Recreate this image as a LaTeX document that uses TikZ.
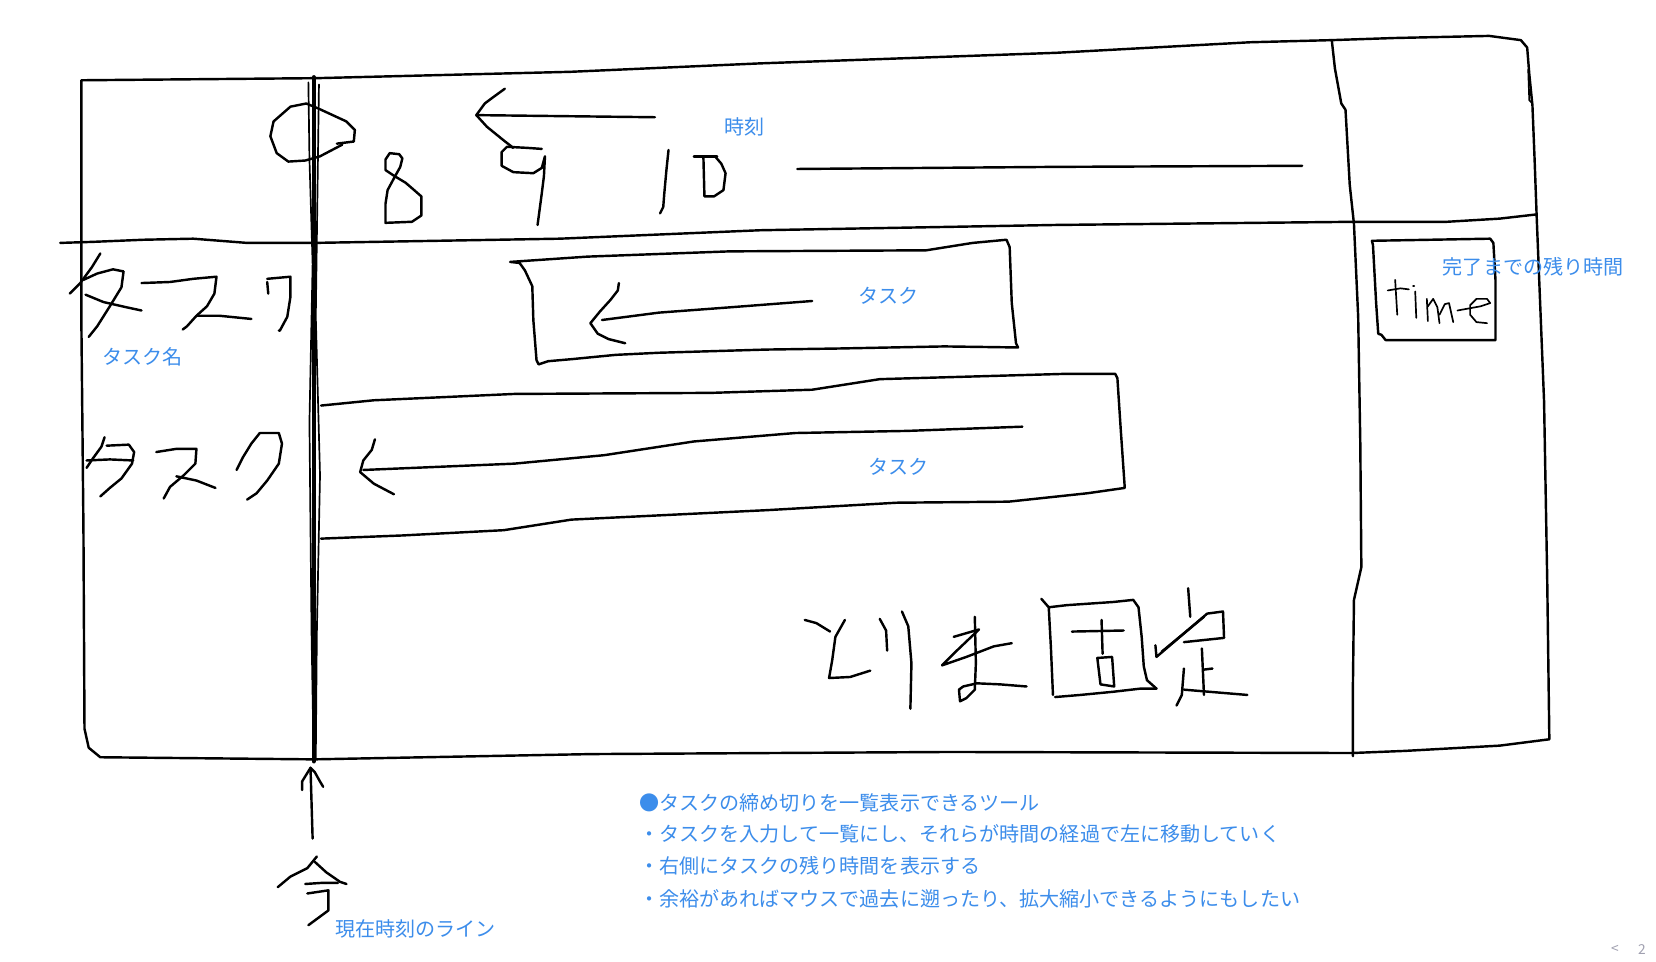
\documentclass[tikz,border=0pt]{standalone}
\usepackage{fontspec}
\setmainfont{Noto Sans CJK JP}
\usetikzlibrary{positioning}
\definecolor{MemoBlue}{HTML}{3C8DEB}
\definecolor{PageGray}{HTML}{A0A0B0}

\begin{document}
\begin{tikzpicture}[x=1pt, y=-1pt,
    ink/.style={line width=2.3pt, line cap=round, line join=round},
    fineink/.style={line width=1.6pt, line cap=round, line join=round},
    memo/.style={text=MemoBlue, font=\fontsize{19}{23}\selectfont, inner sep=0pt, anchor=west}]
  \useasboundingbox[fill=white] (0,0) rectangle (1568,910);

  % outer frame
  \draw[ink] (77,76) -- (300,74) -- (540,68) -- (720,60) -- (1000,50) -- (1184,40) -- (1261,38) -- (1320,36)
    -- (1410,34) -- (1440,38) -- (1446,45) -- (1448,70) -- (1451,100) -- (1453,150) -- (1455,205) -- (1462,380)
    -- (1465,550) -- (1467,700) -- (1420,706) -- (1330,711) -- (1280,713) -- (900,712) -- (560,714) -- (297,719)
    -- (95,717) -- (84,708) -- (80,690) -- (79,500) -- (77,300) -- cycle;
  \draw[fineink] (1447,66) -- (1448,95) -- (1451,98);
  % header divider
  \draw[ink] (57,230) -- (88,229) -- (136,227) -- (183,226) -- (234,230) -- (297,230) -- (530,226) -- (720,218)
    -- (1000,213) -- (1283,210) -- (1370,210) -- (1420,207) -- (1455,203);
  % right panel divider
  \draw[ink] (1261,38) -- (1264,65) -- (1270,98) -- (1274,104) -- (1278,175) -- (1282,212) -- (1286,300)
    -- (1288,420) -- (1289,537) -- (1282,568) -- (1281,650) -- (1281,716);

  % clock row
  \draw[ink] (302,103) -- (328,115) -- (336,123) -- (335,134) -- (319,136);
  \draw[ink] (324,137) -- (303,148) -- (289,152) -- (273,153) -- (262,145) -- (256,129) -- (259,115) -- (275,101) -- (290,98) -- (302,103);
  \draw[ink] (381,150) -- (378,146) -- (369,145) -- (365,151) -- (365,161) -- (374,167) -- (384,173) -- (391,179) -- (399,186)
    -- (399,204) -- (390,210) -- (365,211) -- (365,193) -- (367,180) -- (374,167) -- (379,158) -- (381,150);
  \draw[ink] (451,109) -- (620,111);
  \draw[ink] (478,84) -- (467,92) -- (459,98) -- (451,109) -- (461,120) -- (477,133) -- (486,140);
  \draw[ink] (513,141) -- (499,140) -- (480,139) -- (475,144) -- (475,157) -- (486,163) -- (505,164) -- (513,159) -- (516,148)
    -- (515,167) -- (513,183) -- (509,213);
  \draw[ink] (633,142) -- (631,161) -- (629,183) -- (628,196) -- (625,202);
  \draw[ink] (657,148) -- (679,148);
  \draw[ink] (666,148) -- (667,186) -- (676,186) -- (685,180) -- (687,164) -- (683,155) -- (677,148);
  \draw[ink] (755,160) -- (1000,158) -- (1233,157);
  \node[memo] (clocklabel) at (686,120) {時刻};

  % task names
  \draw[ink] (95,240) -- (87,253) -- (76,268) -- (66,278);
  \draw[ink] (79,265) -- (92,259) -- (107,255) -- (117,257) -- (115,272) -- (104,290) -- (92,309) -- (84,319);
  \draw[ink] (81,279) -- (98,286) -- (120,291) -- (134,294);
  \draw[ink] (134,268) -- (161,267) -- (183,264) -- (205,262) -- (203,278) -- (196,290) -- (186,299) -- (177,309) -- (173,312);
  \draw[ink] (186,299) -- (208,299) -- (238,302);
  \draw[ink] (253,267) -- (254,278);
  \draw[ink] (253,264) -- (275,262) -- (275,281) -- (272,300) -- (265,313) -- (264,313);
  \node[memo] (namelabel) at (97,338) {タスク名};

  \draw[ink] (99,414) -- (96,423) -- (88,434) -- (82,443);
  \draw[ink] (101,422) -- (122,421) -- (127,428) -- (125,439) -- (115,453) -- (104,462) -- (95,470);
  \draw[ink] (82,436) -- (104,435) -- (126,436);
  \draw[ink] (148,428) -- (167,425) -- (186,425) -- (185,439) -- (174,450) -- (161,461) -- (155,472);
  \draw[ink] (167,451) -- (186,455) -- (204,462);
  \draw[ink] (246,410) -- (238,420) -- (230,433) -- (224,445);
  \draw[ink] (246,410) -- (264,410) -- (267,420) -- (264,439) -- (253,455) -- (243,467) -- (234,473);

  % task bars
  \draw[ink] (483,248) -- (556,243) -- (691,238) -- (877,237) -- (921,230) -- (953,227) -- (956,234) -- (958,287)
    -- (962,325) -- (964,329) -- (894,328) -- (793,330) -- (725,331) -- (624,334) -- (583,336) -- (542,340)
    -- (519,342) -- (510,345) -- (508,341) -- (505,303) -- (504,271) -- (497,256) -- (492,249) -- cycle;
  \draw[ink] (769,285) -- (691,291) -- (624,296) -- (570,303);
  \draw[ink] (586,268) -- (585,275) -- (578,284) -- (568,295) -- (559,306) -- (566,316) -- (576,321) -- (592,325);
  \node[memo] (bartaskA) at (813,280) {タスク};

  \draw[ink] (304,384) -- (354,379) -- (487,373) -- (673,372) -- (769,369) -- (833,359) -- (1008,354) -- (1056,354)
    -- (1058,358) -- (1061,404) -- (1065,462) -- (1030,467) -- (955,475) -- (849,476) -- (727,483) -- (541,492)
    -- (477,502) -- (381,507) -- (304,510);
  \draw[ink] (968,404) -- (859,408) -- (753,410) -- (657,418) -- (572,431) -- (487,439) -- (344,445);
  \draw[ink] (355,416) -- (352,426) -- (344,436) -- (341,447) -- (354,458) -- (373,468);
  \node[memo] (bartaskB) at (822,442) {タスク};

  % fixed now line
  \draw[line width=3.8pt, line cap=round] (297,73) -- (297,721);
  \draw[fineink] (292,78) -- (293,150) -- (296,250) -- (293,400) -- (295,600) -- (297,718);
  \draw[fineink] (302,80) -- (299,300) -- (303,450) -- (300,600) -- (299,718);
  \coordinate (nowfoot) at (296,794);
  \coordinate (nowtip) at (294,727);
  \draw[ink] (nowfoot) -- (nowtip);
  \draw[ink] (286,748) -- (286,740) -- (nowtip) -- (298,731) -- (303,740) -- (306,745);
  \draw[ink] (300,811) -- (291,822) -- (275,830) -- (263,840);
  \draw[ink] (298,816) -- (309,826) -- (322,835) -- (328,837);
  \draw[ink] (289,837) -- (304,836) -- (320,836);
  \draw[ink] (291,846) -- (311,843) -- (311,862) -- (292,876);
  \node[memo] (nowlabel) at (317,880) {現在時刻のライン};

  % handwritten note
  \draw[ink] (762,587) -- (773,590) -- (786,598);
  \draw[ink] (800,587) -- (791,603) -- (788,625) -- (785,642) -- (805,641) -- (824,635);
  \draw[ink] (833,586) -- (839,597) -- (840,616);
  \draw[ink] (854,579) -- (860,593) -- (863,628) -- (862,671);
  \draw[ink] (903,603) -- (927,596) -- (906,616) -- (892,630) -- (915,622) -- (941,612) -- (958,609);
  \draw[ink] (923,584) -- (924,628) -- (923,653) -- (915,661) -- (909,664) -- (908,653) -- (912,650) -- (925,647) -- (947,648) -- (972,650);
  \draw[ink] (986,567) -- (993,575) -- (995,612) -- (997,658);
  \draw[ink] (993,575) -- (1010,573) -- (1054,570) -- (1073,568) -- (1078,575) -- (1081,603) -- (1083,631) -- (1086,644) -- (1095,652);
  \draw[ink] (999,660) -- (1023,658) -- (1054,655) -- (1080,652) -- (1095,652);
  \draw[ink] (1015,598) -- (1064,597);
  \draw[ink] (1043,587) -- (1044,619);
  \draw[ink] (1039,623) -- (1053,622) -- (1055,650) -- (1042,648) -- cycle;
  \draw[ink] (1125,557) -- (1127,584);
  \draw[ink] (1094,611) -- (1095,622) -- (1143,581) -- (1158,579) -- (1159,604) -- (1121,608);
  \draw[ink] (1100,617) -- (1140,584);
  \draw[ink] (1138,614) -- (1140,658);
  \draw[ink] (1140,634) -- (1148,633);
  \draw[ink] (1121,633) -- (1119,658) -- (1114,668);
  \draw[ink] (1121,653) -- (1181,658);

  % remaining time box
  \draw[ink] (1299,228) -- (1411,226) -- (1414,230) -- (1416,265) -- (1416,322) -- (1312,322) -- (1308,317)
    -- (1305,316) -- (1303,287) -- (1300,232) -- cycle;
  \draw[fineink] (1321,265) -- (1323,298);
  \draw[fineink] (1314,275) -- (1326,273) -- (1334,274);
  \draw[fineink] (1340,276) -- (1341,301);
  \draw[fineink] (1338,271) -- (1339,271);
  \draw[fineink] (1351,283) -- (1352,304);
  \draw[fineink] (1352,290) -- (1357,283) -- (1361,291) -- (1363,306);
  \draw[fineink] (1363,298) -- (1368,288) -- (1372,287) -- (1376,305);
  \draw[fineink] (1380,294) -- (1402,290) -- (1411,287) -- (1408,283) -- (1398,283) -- (1392,289) -- (1392,298) -- (1398,305) -- (1408,306);
  \node[memo] (remainlabel) at (1366,253) {完了までの残り時間};

  % summary
  \node[memo] (goal) at (605,760) {●タスクの締め切りを一覧表示できるツール};
  \node[memo, below=30pt of goal.west, anchor=west] (pointA) {・タスクを入力して一覧にし、それらが時間の経過で左に移動していく};
  \node[memo, below=30pt of pointA.west, anchor=west] (pointB) {・右側にタスクの残り時間を表示する};
  \node[memo, below=31pt of pointB.west, anchor=west] (pointC) {・余裕があればマウスで過去に遡ったり、拡大縮小できるようにもしたい};

  % page marker
  \node[text=PageGray, font=\fontsize{13}{15}\selectfont, inner sep=0pt] (pageprev) at (1529,899) {<};
  \node[text=PageGray, font=\fontsize{13}{15}\selectfont, inner sep=0pt, right=18pt of pageprev] (pagenum) {2};
\end{tikzpicture}
\end{document}
